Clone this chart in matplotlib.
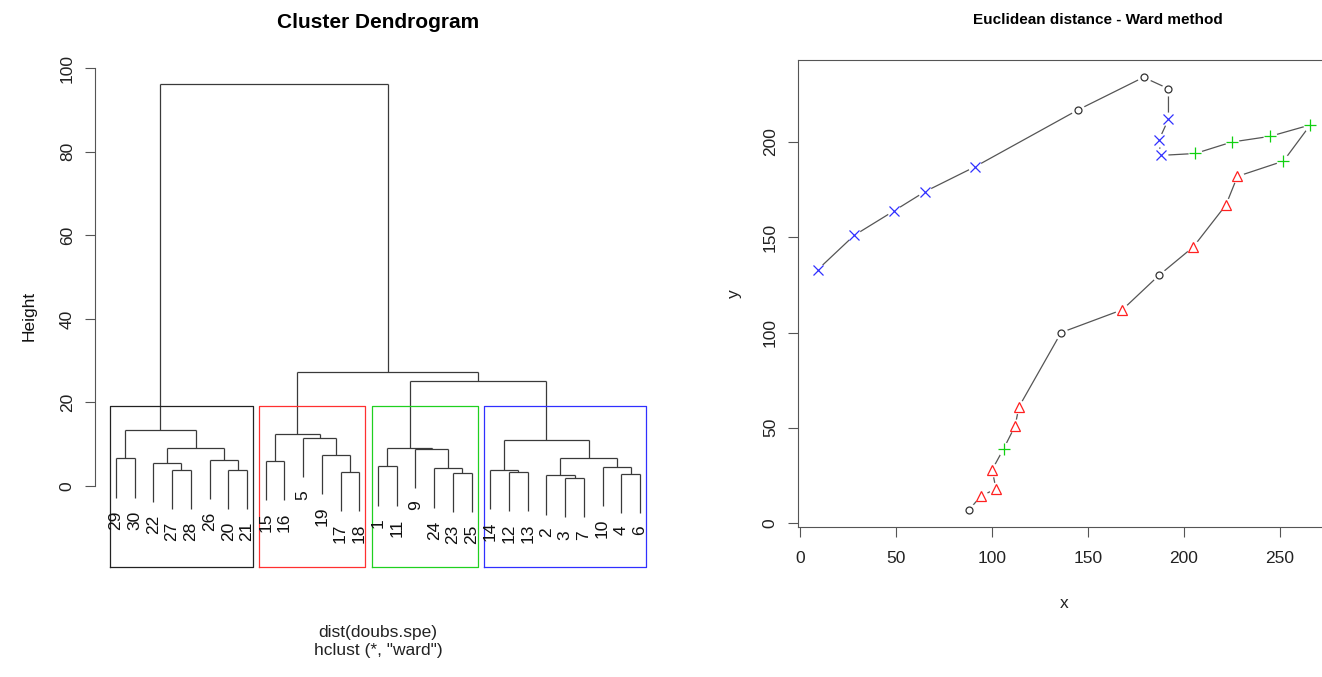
import matplotlib
matplotlib.use('Agg')
import matplotlib.pyplot as plt
import numpy as np

plt.rcParams['font.family'] = ['Liberation Sans', 'DejaVu Sans']

# ward clustering of the Doubs sites (site 8 dropped), R-style merge table
# negative = site label, positive = earlier merge (1-based)
merge_a = [-3, -2, -4, -23, -12, -17, -27, -20, -14, -24, -10, -1, -22, -15,
           -26, -29, 2, -19, -9, 13, 12, 9, -5, 14, 16, 21, 24, 25]
merge_b = [-7, 1, -6, -25, -13, -18, -28, -21, 5, 4, 3, -11, 7, -16,
           8, -30, 11, 6, 10, 15, 19, 17, 18, 23, 20, 22, 26, 27]
merge_h = [1.9, 2.6, 2.9, 3.1, 3.4, 3.4, 3.8, 3.8, 3.9, 4.2, 4.6, 4.7, 5.6, 6.0,
           6.2, 6.6, 6.6, 7.5, 8.9, 9.0, 9.05, 11.0, 11.5, 12.4, 13.4, 25.1, 27.3, 96.2]

# k = 4 groups, in leaf order, with border colours
group_sizes = [8, 6, 6, 9]
group_cols = ['#222222', '#ff3030', '#20d020', '#3030ff']

# site coordinates (doubs$xy without site 8) and group from cutree
site = [1, 2, 3, 4, 5, 6, 7, 9, 10, 11, 12, 13, 14, 15, 16, 17, 18, 19, 20,
        21, 22, 23, 24, 25, 26, 27, 28, 29, 30]
site_x = [88, 94, 102, 100, 106, 112, 114, 136, 168, 187, 205, 222, 228, 252, 266,
          245, 225, 206, 188, 187, 192, 192, 179, 145, 91, 65, 49, 28, 9]
site_y = [7, 14, 18, 28, 39, 51, 61, 100, 112, 130, 145, 167, 182, 190, 209,
          203, 200, 194, 193, 201, 212, 228, 234, 217, 187, 174, 164, 151, 133]
site_grp = [1, 2, 2, 2, 3, 2, 2, 1, 2, 1, 2, 2, 2, 3, 3, 3, 3, 3, 4, 4, 4, 1, 1, 1,
            4, 4, 4, 4, 4]

FS = 12.5

fig = plt.figure(figsize=(13.22, 6.77), dpi=100)
fig.patch.set_facecolor('white')

# ---------------- dendrogram ----------------
ax1 = fig.add_axes([95 / 1322, (677 - 567) / 677, 566 / 1322, 502 / 677])

# leaf order from walking the tree
def leaves(i):
    out = []
    for c in (merge_a[i - 1], merge_b[i - 1]):
        out += [-c] if c < 0 else leaves(c)
    return out

order = leaves(len(merge_h))
leaf_pos = {lab: k + 1 for k, lab in enumerate(order)}
hang = 0.1 * (max(merge_h) - min(merge_h))

node_x = {}
dcol = '#3a3a3a'
for i in range(1, len(merge_h) + 1):
    h = merge_h[i - 1]
    xs = []
    for c in (merge_a[i - 1], merge_b[i - 1]):
        if c < 0:
            x = leaf_pos[-c]
            y0 = h - hang
            ax1.text(x, y0 - 3.0, str(-c), rotation=90, ha='center', va='top',
                     fontsize=FS, color='#111111')
        else:
            x = node_x[c]
            y0 = merge_h[c - 1]
        ax1.plot([x, x], [y0, h], color=dcol, lw=0.9, solid_capstyle='butt')
        xs.append(x)
    ax1.plot(xs, [h, h], color=dcol, lw=0.9, solid_capstyle='butt')
    node_x[i] = np.mean(xs)

ylo, yhi = -19.4, 100.8
n = len(order)
ax1.set_xlim(1 - 0.04 * (n - 1), n + 0.04 * (n - 1))
ax1.set_ylim(ylo, yhi)

# rect.hclust boxes
srt = sorted(merge_h, reverse=True)
box_top = np.mean(srt[2:4])
start = 0
for sz, col in zip(group_sizes, group_cols):
    x0, x1 = start + 0.66, start + sz + 0.33
    ax1.plot([x0, x1, x1, x0, x0], [ylo, ylo, box_top, box_top, ylo],
             color=col, lw=0.9, clip_on=False)
    start += sz

for s in ['top', 'right', 'bottom']:
    ax1.spines[s].set_visible(False)
ax1.spines['left'].set_bounds(0, 100)
ax1.spines['left'].set_color('#555555')
ax1.set_xticks([])
ax1.set_yticks([0, 20, 40, 60, 80, 100])
ax1.tick_params(axis='y', length=7, width=0.8, color='#555555', labelsize=FS,
                labelcolor='#222222', pad=7.5)
for t in ax1.get_yticklabels():
    t.set_rotation(90)
    t.set_va('center')
ax1.set_ylabel('Height', fontsize=FS, labelpad=17, color='#111111')
fig.text(378 / 1322, 1 - 22 / 677, 'Cluster Dendrogram', ha='center', va='center',
         fontsize=15, fontweight='bold')
fig.text(378 / 1322, 1 - 632 / 677, 'dist(doubs.spe)', ha='center', va='center',
         fontsize=FS, color='#222222')
fig.text(378 / 1322, 1 - 650 / 677, 'hclust (*, "ward")', ha='center', va='center',
         fontsize=FS, color='#222222')

# ---------------- xy map ----------------
ax2 = fig.add_axes([798 / 1322, (677 - 527) / 677, 532 / 1322, 467 / 677])
ax2.plot(site_x, site_y, color='#555555', lw=0.9, zorder=1)
ax2.plot(site_x, site_y, ls='none', marker='o', ms=10, mfc='white', mec='none', zorder=2)

mk = {1: 'o', 2: '^', 3: '+', 4: 'x'}
msz = {1: 5, 2: 7.5, 3: 8.5, 4: 6.5}
pcol = {1: '#333333', 2: '#ff2020', 3: '#10d010', 4: '#3030ff'}
for g in [1, 2, 3, 4]:
    gx = [x for x, k in zip(site_x, site_grp) if k == g]
    gy = [y for y, k in zip(site_y, site_grp) if k == g]
    ax2.plot(gx, gy, ls='none', marker=mk[g], ms=msz[g], mfc='none', mec=pcol[g],
             mew=0.9, zorder=3)

rx = max(site_x) - min(site_x)
ry = max(site_y) - min(site_y)
ax2.set_xlim(min(site_x) - 0.04 * rx, max(site_x) + 0.04 * rx)
ax2.set_ylim(min(site_y) - 0.04 * ry, max(site_y) + 0.04 * ry)
ax2.set_xticks([0, 50, 100, 150, 200, 250])
ax2.set_yticks([0, 50, 100, 150, 200])
for s in ax2.spines.values():
    s.set_color('#555555')
ax2.tick_params(length=7, width=0.8, color='#555555', labelsize=FS,
                labelcolor='#222222', pad=7.5)
ax2.tick_params(axis='x', pad=10)
for t in ax2.get_yticklabels():
    t.set_rotation(90)
    t.set_va('center')
ax2.set_xlabel('x', fontsize=FS, labelpad=22, color='#222222')
ax2.set_ylabel('y', fontsize=FS, labelpad=15, color='#222222')
fig.text(1098 / 1322, 1 - 20 / 677, 'Euclidean distance - Ward method', ha='center',
         va='center', fontsize=11, fontweight='bold')

fig.savefig('out.png', dpi=100, facecolor='white')
